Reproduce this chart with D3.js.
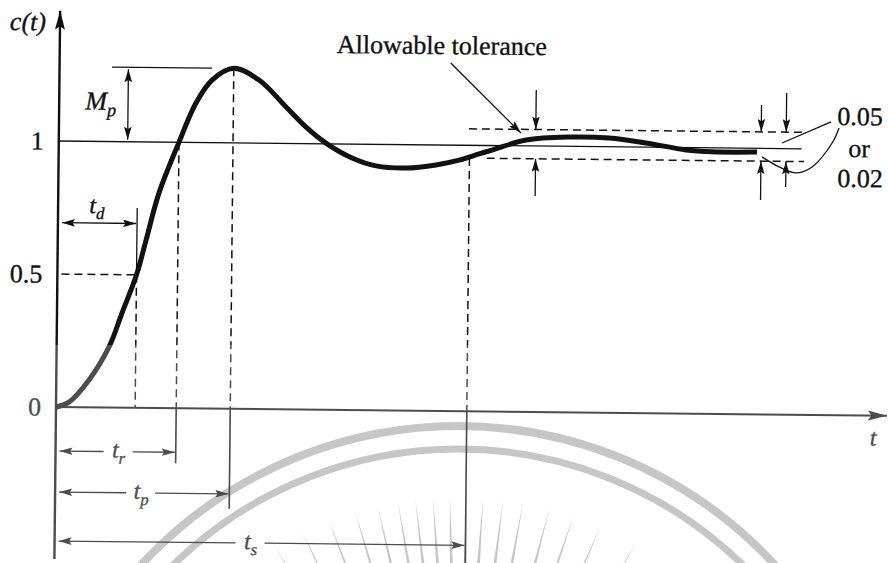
<!DOCTYPE html>
<html>
<head>
<meta charset="utf-8">
<script src="https://cdn.jsdelivr.net/npm/d3@7"></script>
<style>
  html, body { margin: 0; padding: 0; background: #fff; }
  svg { display: block; }
  text { font-family: "Liberation Serif", "Times New Roman", serif; fill: #111; stroke: #111; stroke-width: 0.35px; }
</style>
</head>
<body>
<svg id="chart" width="888" height="563"></svg>
<script>
// Unit-step response c(t) of an underdamped second-order system
const curveT = [0, 0.158, 0.399, 0.639, 0.793, 0.965, 1.077, 1.229, 1.466, 1.668, 1.861, 2.125,
                2.434, 2.767, 3.014, 3.271, 3.578, 3.872, 4.238, 4.604, 4.883, 5.127, 5.284,
                5.698, 6.222, 6.71, 7.161, 7.65, 7.967, 8.516];
const curveC = [0, 0.019, 0.103, 0.228, 0.356, 0.5, 0.631, 0.809, 1.0, 1.148, 1.235, 1.28,
                1.237, 1.137, 1.062, 1.0, 0.948, 0.919, 0.912, 0.925, 0.944, 0.968, 0.983,
                1.022, 1.035, 1.033, 1.016, 0.991, 0.985, 0.986];

// Level ticks on the c(t) axis
const levelTicks  = [0, 0.5, 1];
const levelLabels = ["0", "0.5", "1"];

// Time specifications: delay, rise, peak, settling
const specSubs  = ["d", "r", "p", "s"];
const specTimes = [0.965, 1.466, 2.125, 5.01];
const peakValue = 1.28;

// Allowable tolerance band around the final value
const bandUpper  = 1.062;
const bandLower  = 0.952;
const bandLabels = ["0.05", "or", "0.02"];

const svg = d3.select("#chart");
const ink = "#111";

// ---- background seal (decorative) ----
const seal = svg.append("g").attr("fill", "none").attr("stroke", "#b3b3b3");
const sealC = [458, 857];
seal.append("circle").attr("cx", sealC[0]).attr("cy", sealC[1]).attr("r", 431).attr("stroke-width", 8);
seal.append("circle").attr("cx", sealC[0]).attr("cy", sealC[1]).attr("r", 408).attr("stroke-width", 7);
const rayAngles = [-35, -30.5, -25.6, -21, -16.6, -12.9, -9.6, -6.8, -4, -1.3, 1.4, 4, 7.2, 10.4, 14.7, 18.7, 23.3, 29.5, 35];
rayAngles.forEach(a => {
  const r = a * Math.PI / 180, r0 = 360, r1 = 240;
  const s = Math.sin(r), c = Math.cos(r);
  const tip = [sealC[0] + r0 * s, sealC[1] - r0 * c];
  const b1 = [sealC[0] + r1 * s - 2.6 * c, sealC[1] - r1 * c - 2.6 * s];
  const b2 = [sealC[0] + r1 * s + 2.6 * c, sealC[1] - r1 * c + 2.6 * s];
  seal.append("path").attr("d", `M${tip}L${b1}L${b2}Z`).attr("fill", "#b3b3b3").attr("stroke", "none");
});

// ---- arrowheads ----
const defs = svg.append("defs");
function marker(id, len, half) {
  defs.append("marker").attr("id", id)
    .attr("viewBox", `0 0 ${len} ${2 * half}`)
    .attr("markerUnits", "userSpaceOnUse")
    .attr("markerWidth", len).attr("markerHeight", 2 * half)
    .attr("refX", len).attr("refY", half)
    .attr("orient", "auto-start-reverse")
    .append("path")
    .attr("d", `M0,0L${len},${half}L0,${2 * half}L${len * 0.18},${half}Z`)
    .attr("fill", ink);
}
marker("ah", 13, 3.8);
marker("axh", 19, 5);

// ---- scales ----
const x = d3.scaleLinear().domain([0, 10]).range([0, 820]);
const y = d3.scaleLinear().domain([0, 1]).range([0, -266]);

const g = svg.append("g").attr("transform", "translate(56,407) rotate(0.6)");

function seg(x1, y1, x2, y2, opt = {}) {
  const l = g.append("line")
    .attr("x1", x1).attr("y1", y1).attr("x2", x2).attr("y2", y2)
    .attr("stroke", ink).attr("stroke-width", opt.w || 1.4);
  if (opt.dash) l.attr("stroke-dasharray", opt.dash);
  if (opt.start) l.attr("marker-start", `url(#${opt.start})`);
  if (opt.end) l.attr("marker-end", `url(#${opt.end})`);
  return l;
}
function subLabel(px, py, main, sub, anchor, size) {
  const t = g.append("text").attr("x", px).attr("y", py)
    .attr("text-anchor", anchor).attr("font-style", "italic").attr("font-size", size);
  t.append("tspan").text(main);
  t.append("tspan").attr("dy", size * 0.25).attr("font-size", size * 0.7).text(sub);
  return t;
}

// ---- axes ----
seg(0, 152, 0, y(1.49), { w: 2.4, end: "axh" });
seg(0, 0, 831, 0, { w: 2, end: "axh" });

const yAxis = d3.axisLeft(y).tickValues(levelTicks).tickSize(0).tickPadding(15)
  .tickFormat((d, i) => levelLabels[i]);
const ya = g.append("g").call(yAxis);
ya.select(".domain").remove();
ya.selectAll("text").attr("font-size", 26).attr("fill", ink)
  .attr("font-family", '"Liberation Serif", serif');

g.append("text").attr("x", -14).attr("y", y(1.415)).attr("text-anchor", "end")
  .attr("font-size", 26).attr("font-style", "italic").text("c(t)");
g.append("text").attr("x", x(9.97)).attr("y", 30).attr("text-anchor", "middle")
  .attr("font-size", 24).attr("font-style", "italic").text("t");

// ---- reference levels ----
seg(0, y(1), x(9.06), y(1), { w: 1.3 });
seg(x(5.0), y(bandUpper), x(9.12), y(bandUpper), { w: 1.5, dash: "8,5" });
seg(x(5.22), y(bandLower), x(9.09), y(bandLower), { w: 1.5, dash: "8,5" });
seg(4, y(0.5), x(specTimes[0]), y(0.5), { w: 1.5, dash: "8,5" });

// ---- time markers ----
const [tD, tR, tP, tS] = specTimes;
const dashTop = [0.5, 1, peakValue, bandLower];
specTimes.forEach((t, i) => seg(x(t), y(dashTop[i]), x(t), 0, { w: 1.5, dash: "8,5" }));
seg(x(tD), y(0.5), x(tD), y(0.751), { w: 1.3 });
const belowEnd = [null, 55, 100, 165];
[1, 2, 3].forEach(i => seg(x(specTimes[i]), 0, x(specTimes[i]), belowEnd[i], { w: 1.6 }));

// delay time arrow above the curve foot
const tdArrow = y(0.693);
seg(4, tdArrow, x(tD) - 1, tdArrow, { w: 1.3, start: "ah", end: "ah" });
subLabel(x(tD * 0.49), tdArrow - 10, "t", specSubs[0], "middle", 24);

// rise, peak and settling time arrows below the time axis
const belowY = [null, 44, 85, 134];
const labelFrac = [null, 0.525, 0.494, 0.477];
[1, 2, 3].forEach(i => {
  const xe = x(specTimes[i]) - 1, xm = x(specTimes[i] * labelFrac[i]), yy = belowY[i];
  seg(4, yy, xm - 15, yy, { w: 1.3, start: "ah" });
  seg(xm + 14, yy, xe, yy, { w: 1.3, end: "ah" });
  subLabel(xm, yy + 6, "t", specSubs[i], "middle", 24);
});

// ---- maximum overshoot ----
seg(x(0.64), y(peakValue), x(1.86), y(peakValue), { w: 1.3 });
seg(x(0.84), y(peakValue) + 2, x(0.84), y(1) - 2, { w: 1.3, start: "ah", end: "ah" });
subLabel(x(0.32), y(1.12), "M", "p", "start", 26);

// ---- response curve ----
const line = d3.line().x(d => x(d[0])).y(d => y(d[1])).curve(d3.curveCatmullRom.alpha(0.5));
g.append("path").datum(curveT.map((t, i) => [t, curveC[i]]))
  .attr("d", line).attr("fill", "none").attr("stroke", ink)
  .attr("stroke-width", 5).attr("stroke-linejoin", "round");

// ---- tolerance annotations ----
g.append("text").attr("x", x(4.66)).attr("y", y(1.342)).attr("text-anchor", "middle")
  .attr("font-size", 26).text("Allowable tolerance");
seg(x(4.77), y(1.309), x(5.636), y(1.048), { w: 1.3, end: "ah" });

const pairs = [[5.816, 1.211, 0.812], [8.565, 1.163, 0.806], [8.87, 1.209, 0.856]];
pairs.forEach(([t, top, bot]) => {
  seg(x(t), y(top), x(t), y(bandUpper), { w: 1.3, end: "ah" });
  seg(x(t), y(bot), x(t), y(bandLower), { w: 1.3, end: "ah" });
});

const labelPos = [[9.49, 1.091, "start"], [9.76, 0.971, "middle"], [9.5, 0.858, "start"]];
bandLabels.forEach((s, i) => {
  g.append("text").attr("x", x(labelPos[i][0])).attr("y", y(labelPos[i][1]))
    .attr("text-anchor", labelPos[i][2]).attr("font-size", 26).text(s);
});
seg(x(9.415), y(1.102), x(8.82), y(1.021), { w: 1.3 });
const hook = [[8.578, 0.968], [8.787, 0.931], [8.994, 0.909], [9.189, 0.932], [9.43, 1.023], [9.513, 1.08]];
g.append("path").datum(hook)
  .attr("d", d3.line().x(d => x(d[0])).y(d => y(d[1])).curve(d3.curveCatmullRom))
  .attr("fill", "none").attr("stroke", ink).attr("stroke-width", 1.3);

// lighter print on the lower part of the sheet
svg.append("rect").attr("x", 0).attr("y", 345).attr("width", 888).attr("height", 218)
  .attr("fill", "#fff").attr("opacity", 0.25);
</script>
</body>
</html>
